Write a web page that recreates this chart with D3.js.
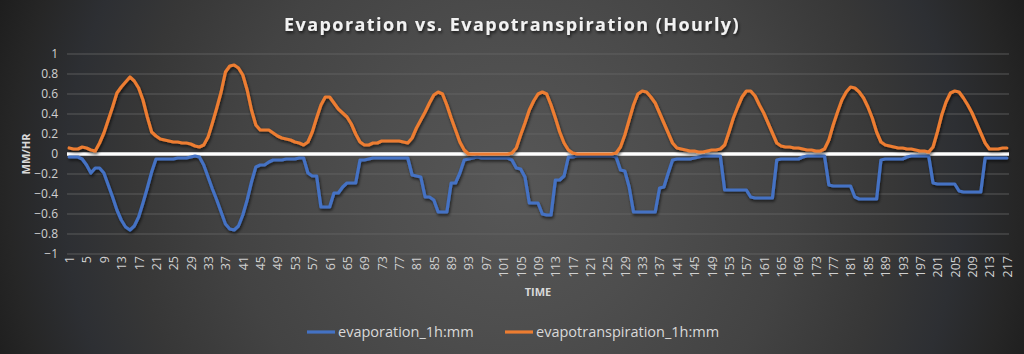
<!DOCTYPE html>
<html>
<head>
<meta charset="utf-8">
<script src="https://cdn.jsdelivr.net/npm/d3@7"></script>
<style>
  html, body { margin: 0; padding: 0; background: #2a2a2a; }
  svg { display: block; }
</style>
</head>
<body>
<svg id="chart" width="1024" height="354"></svg>
<script>
// ---------------- DATA ----------------
const title = "Evaporation vs. Evapotranspiration (Hourly)";
const yAxisTitle = "MM/HR";
const xAxisTitle = "TIME";
const seriesNames = ["evaporation_1h:mm", "evapotranspiration_1h:mm"];
const categories = d3.range(1, 218); // hourly index 1..217
const yTicks = [1, 0.8, 0.6, 0.4, 0.2, 0, -0.2, -0.4, -0.6, -0.8, -1];

const evaporation = [
  -0.03,-0.03,-0.03,-0.05,-0.11,-0.19,-0.14,-0.14,-0.19,-0.31,
  -0.43,-0.56,-0.66,-0.73,-0.76,-0.72,-0.63,-0.49,-0.34,-0.18,
  -0.05,-0.05,-0.05,-0.05,-0.05,-0.04,-0.04,-0.04,-0.03,-0.02,
  -0.03,-0.11,-0.23,-0.35,-0.46,-0.58,-0.70,-0.75,-0.76,-0.72,
  -0.61,-0.46,-0.28,-0.13,-0.11,-0.11,-0.08,-0.06,-0.06,-0.06,
  -0.05,-0.05,-0.05,-0.04,-0.04,-0.19,-0.22,-0.22,-0.53,-0.53,
  -0.53,-0.39,-0.39,-0.33,-0.29,-0.29,-0.29,-0.06,-0.06,-0.05,
  -0.04,-0.04,-0.04,-0.04,-0.04,-0.04,-0.04,-0.04,-0.04,-0.21,
  -0.22,-0.23,-0.43,-0.43,-0.46,-0.58,-0.58,-0.58,-0.29,-0.29,
  -0.19,-0.06,-0.05,-0.04,-0.03,-0.04,-0.04,-0.04,-0.04,-0.04,
  -0.04,-0.04,-0.06,-0.14,-0.15,-0.23,-0.49,-0.49,-0.49,-0.60,
  -0.61,-0.61,-0.26,-0.26,-0.22,-0.03,-0.03,-0.02,-0.02,-0.02,
  -0.02,-0.02,-0.02,-0.02,-0.02,-0.02,-0.03,-0.16,-0.17,-0.33,
  -0.58,-0.58,-0.58,-0.58,-0.58,-0.58,-0.34,-0.33,-0.19,-0.06,
  -0.05,-0.05,-0.05,-0.05,-0.04,-0.03,-0.02,-0.02,-0.02,-0.02,
  -0.02,-0.36,-0.36,-0.36,-0.36,-0.36,-0.36,-0.43,-0.44,-0.44,
  -0.44,-0.44,-0.44,-0.06,-0.05,-0.05,-0.05,-0.05,-0.05,-0.03,
  -0.02,-0.02,-0.02,-0.02,-0.02,-0.31,-0.32,-0.32,-0.32,-0.32,
  -0.32,-0.43,-0.45,-0.45,-0.45,-0.45,-0.45,-0.06,-0.05,-0.05,
  -0.05,-0.05,-0.05,-0.03,-0.02,-0.02,-0.02,-0.02,-0.02,-0.29,
  -0.30,-0.30,-0.30,-0.30,-0.30,-0.37,-0.38,-0.38,-0.38,-0.38,
  -0.38,-0.04,-0.04,-0.04,-0.04,-0.04,-0.04
];

const evapotranspiration = [
  0.06,0.05,0.05,0.07,0.06,0.04,0.03,0.11,0.21,0.34,
  0.47,0.61,0.67,0.72,0.77,0.73,0.66,0.54,0.37,0.22,
  0.18,0.15,0.14,0.13,0.12,0.12,0.11,0.11,0.10,0.08,
  0.07,0.09,0.17,0.31,0.46,0.62,0.82,0.88,0.89,0.86,
  0.79,0.64,0.44,0.29,0.24,0.24,0.24,0.21,0.18,0.16,
  0.15,0.14,0.12,0.11,0.09,0.12,0.22,0.36,0.49,0.57,
  0.57,0.51,0.45,0.41,0.37,0.30,0.20,0.12,0.09,0.09,
  0.11,0.11,0.13,0.13,0.13,0.13,0.13,0.12,0.11,0.16,
  0.26,0.34,0.42,0.51,0.59,0.62,0.60,0.49,0.36,0.24,
  0.12,0.04,0.00,0.00,0.00,0.00,0.00,0.00,0.00,0.00,
  0.00,0.00,0.01,0.06,0.19,0.31,0.44,0.53,0.60,0.62,
  0.60,0.49,0.36,0.22,0.11,0.04,0.01,0.00,0.00,0.00,
  0.00,0.00,0.00,0.00,0.00,0.00,0.01,0.07,0.19,0.34,
  0.49,0.60,0.63,0.62,0.57,0.51,0.41,0.31,0.21,0.11,
  0.06,0.05,0.04,0.03,0.03,0.02,0.02,0.03,0.04,0.04,
  0.05,0.09,0.22,0.36,0.47,0.57,0.63,0.63,0.58,0.49,
  0.41,0.31,0.21,0.11,0.08,0.07,0.07,0.06,0.06,0.05,
  0.04,0.04,0.03,0.03,0.05,0.14,0.29,0.42,0.54,0.62,
  0.67,0.66,0.62,0.56,0.47,0.36,0.22,0.12,0.09,0.08,
  0.07,0.06,0.06,0.05,0.05,0.04,0.03,0.03,0.02,0.07,
  0.22,0.39,0.52,0.61,0.63,0.62,0.56,0.49,0.41,0.31,
  0.21,0.11,0.05,0.05,0.05,0.06,0.06
];

const seriesColors = ["#4472C4", "#ED7D31"];

// ---------------- CHART ----------------
const W = 1024, H = 354;
const plot = { left: 67, right: 1009, top: 54, bottom: 254 };
const svg = d3.select("#chart");
const defs = svg.append("defs");

// background radial gradient (dark Excel style)
const bg = defs.append("radialGradient").attr("id", "bg")
  .attr("gradientUnits", "userSpaceOnUse")
  .attr("cx", 512).attr("cy", 190).attr("r", 560);
[[0, "#575757"], [0.25, "#4e4e4e"], [0.5, "#434343"], [0.68, "#373737"],
 [0.8, "#2d2f33"], [0.9, "#262626"], [1, "#1b1b1b"]]
  .forEach(([o, c]) => bg.append("stop").attr("offset", o).attr("stop-color", c));
svg.append("rect").attr("width", W).attr("height", H).attr("fill", "url(#bg)");

const shadow = defs.append("filter").attr("id", "shadow")
  .attr("x", "-5%").attr("y", "-20%").attr("width", "110%").attr("height", "140%");
shadow.append("feDropShadow").attr("dx", 1).attr("dy", 2).attr("stdDeviation", 1.6)
  .attr("flood-color", "#000").attr("flood-opacity", 0.65);

const x = d3.scalePoint().domain(categories).range([plot.left, plot.right]).padding(0.5);
const y = d3.scaleLinear().domain([-1, 1]).range([plot.bottom, plot.top]);

// gridlines
svg.append("g").selectAll("line").data(yTicks.filter(d => d !== 0)).join("line")
  .attr("x1", plot.left).attr("x2", plot.right)
  .attr("y1", d => y(d)).attr("y2", d => y(d))
  .attr("stroke", "#6a6a6a").attr("stroke-opacity", 0.75).attr("stroke-width", 1);

// y axis labels
const yAxis = d3.axisLeft(y).tickValues(yTicks).tickSize(0).tickPadding(0)
  .tickFormat(d => d3.format("")(+d.toFixed(1)));
const gy = svg.append("g").attr("transform", `translate(58,0)`).call(yAxis);
gy.select(".domain").remove();
gy.selectAll("text").attr("fill", "#d0d0d0").attr("font-family", "Open Sans")
  .attr("font-size", 12);

// zero line
svg.append("line").attr("x1", plot.left).attr("x2", plot.right)
  .attr("y1", y(0)).attr("y2", y(0))
  .attr("stroke", "#ffffff").attr("stroke-width", 3.5);

// x axis labels
const xAxis = d3.axisBottom(x).tickValues(categories.filter(d => (d - 1) % 4 === 0))
  .tickSize(0).tickPadding(0);
const gx = svg.append("g").attr("transform", `translate(0,${plot.bottom})`).call(xAxis);
gx.select(".domain").remove();
gx.selectAll("text")
  .attr("fill", "#d0d0d0").attr("font-family", "Open Sans").attr("font-size", 12.5)
  .attr("text-anchor", "end")
  .attr("transform", "rotate(-90)")
  .attr("x", -2).attr("y", 0).attr("dy", "0.35em");

// series lines
const line = d3.line().x((d, i) => x(categories[i])).y(d => y(d)).curve(d3.curveLinear);
[evaporation, evapotranspiration].forEach((vals, k) => {
  svg.append("path").datum(vals)
    .attr("d", line)
    .attr("fill", "none")
    .attr("stroke", seriesColors[k])
    .attr("stroke-width", 3.2)
    .attr("stroke-linejoin", "round")
    .attr("stroke-linecap", "round")
    .attr("filter", "url(#shadow)");
});

// title
svg.append("text").attr("x", 512).attr("y", 31)
  .attr("text-anchor", "middle")
  .attr("font-family", "Open Sans").attr("font-weight", "bold").attr("font-size", 18)
  .attr("fill", "#f2f2f2").attr("letter-spacing", 1.45)
  .attr("filter", "url(#shadow)")
  .text(title);

// axis titles
svg.append("text").attr("transform", "translate(30,154) rotate(-90)")
  .attr("text-anchor", "middle")
  .attr("font-family", "Open Sans").attr("font-weight", "bold").attr("font-size", 11)
  .attr("fill", "#d9d9d9").text(yAxisTitle);
svg.append("text").attr("x", 538).attr("y", 296)
  .attr("text-anchor", "middle")
  .attr("font-family", "Open Sans").attr("font-weight", "bold").attr("font-size", 11)
  .attr("fill", "#d9d9d9").text(xAxisTitle);

// legend
const legendX = [307, 505];
seriesNames.forEach((name, k) => {
  const g = svg.append("g").attr("transform", `translate(${legendX[k]},332)`);
  g.append("line").attr("x1", 0).attr("x2", 28).attr("y1", 0).attr("y2", 0)
    .attr("stroke", seriesColors[k]).attr("stroke-width", 3.2);
  g.append("text").attr("x", 31).attr("y", 0).attr("dy", "0.35em")
    .attr("font-family", "Open Sans").attr("font-size", 14.5)
    .attr("fill", "#d9d9d9").text(name);
});
</script>
</body>
</html>
